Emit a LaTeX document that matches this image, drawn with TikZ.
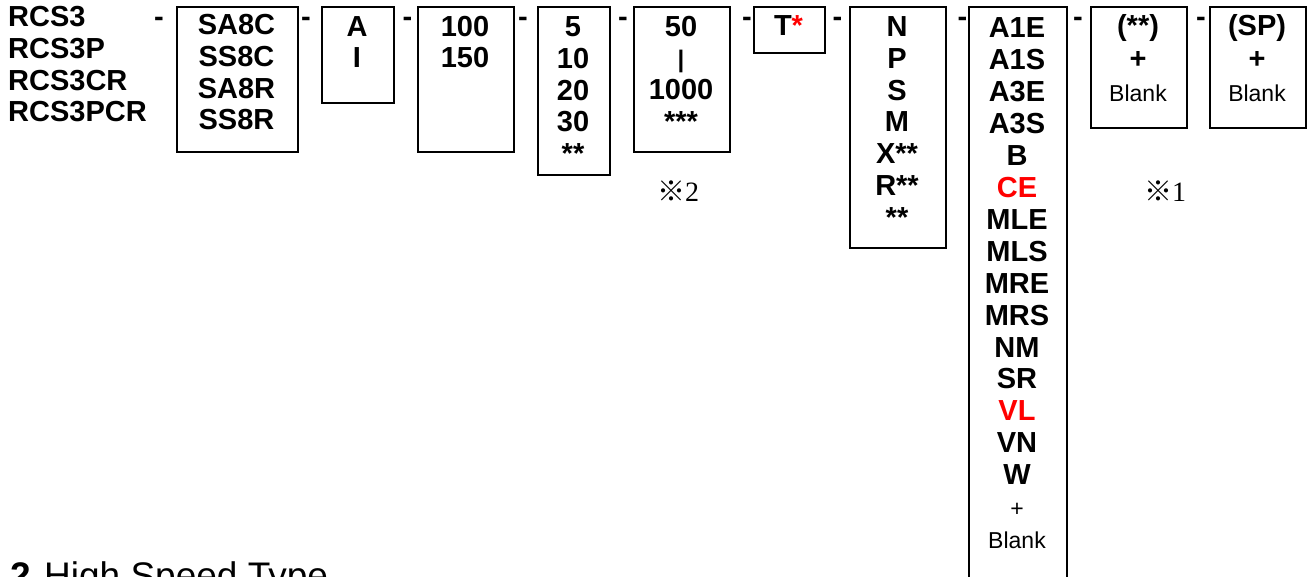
\documentclass[tikz,border=0pt]{standalone}
\usepackage{fontspec}
\setmainfont{Liberation Sans}
\newfontfamily\serifnum{Liberation Serif}
\newfontfamily\cjk{Noto Sans CJK SC}
\newcommand\firstln{\rule{0pt}{22pt}}
\begin{document}
\begin{tikzpicture}[x=1pt,y=-1pt,
  box/.style={draw, line width=1.6pt, inner sep=0pt, anchor=north west},
  txt/.style={inner sep=0pt, anchor=north, align=center, font=\fontsize{29}{31.8}\selectfont\bfseries},
  dsh/.style={inner sep=0pt, anchor=base, font=\fontsize{29}{31.8}\selectfont\bfseries},
  note/.style={inner sep=0pt, anchor=base, font=\fontsize{28}{28}\selectfont}
]
\useasboundingbox (0,0) rectangle (1311,577);
\fill[white] (0,0) rectangle (1311,577);
\clip (0,0) rectangle (1311,577);

% boxes
\node[box, minimum width=121pt, minimum height=145pt] (b1) at (176,6) {};
\node[box, minimum width=72pt,  minimum height=96pt]  (b2) at (321,6) {};
\node[box, minimum width=96pt,  minimum height=145pt] (b3) at (417,6) {};
\node[box, minimum width=72pt,  minimum height=168pt] (b4) at (537,6) {};
\node[box, minimum width=96pt,  minimum height=145pt] (b5) at (633,6) {};
\node[box, minimum width=71pt,  minimum height=46pt]  (b6) at (753,6) {};
\node[box, minimum width=96pt,  minimum height=241pt] (b7) at (849,6) {};
\node[box, minimum width=98pt,  minimum height=600pt] (b8) at (968,6) {};
\node[box, minimum width=96pt,  minimum height=121pt] (b9) at (1090,6) {};
\node[box, minimum width=96pt,  minimum height=121pt] (b10) at (1209,6) {};

% left column
\node[txt, anchor=north west, align=left] (models) at (8,4.4)
  {\firstln RCS3\\RCS3P\\RCS3CR\\RCS3PCR};

% box texts
\node[txt] (t1) at (236.5,12.4) {\firstln SA8C\\SS8C\\SA8R\\SS8R};
\node[txt] (t2) at (357,13.9) {\firstln A\\I};
\node[txt] (t3) at (465,13.9) {\firstln 100\\150};
\node[txt] (t4) at (573,14.4) {\firstln 5\\10\\20\\30\\**};
\node[txt] (t5) at (681,13.9) {\firstln 50\\{\fontsize{24}{31.8}\selectfont |}\\1000\\***};
\node[txt] (t6) at (788.5,13.4) {\firstln T{\color{red}*}};
\node[txt] (t7) at (897,14.4) {\firstln N\\P\\S\\M\\X**\\R**\\**};
\node[txt, font=\fontsize{29}{31.94}\selectfont\bfseries] (t8) at (1017,15.4)
  {\firstln A1E\\A1S\\A3E\\A3S\\B\\{\color{red}CE}\\MLE\\MLS\\MRE\\MRS\\NM\\SR\\{\color{red}VL}\\VN\\W\\{\fontsize{23}{31.94}\selectfont\mdseries +}\\{\fontsize{23}{31.94}\selectfont\mdseries Blank}};
\node[txt, font=\fontsize{29}{33}\selectfont\bfseries] (t9) at (1138,13.4)
  {\firstln (**)\\+\\{\fontsize{23}{33}\selectfont\mdseries Blank}};
\node[txt, font=\fontsize{29}{33}\selectfont\bfseries] (t10) at (1257,13.4)
  {\firstln (SP)\\+\\{\fontsize{23}{33}\selectfont\mdseries Blank}};

% dashes
\node[dsh] (d1) at (159,26.4) {-};
\node[dsh] (d2) at (306,26.4) {-};
\node[dsh] (d3) at (407.5,26.4) {-};
\node[dsh] (d4) at (523,26.4) {-};
\node[dsh] (d5) at (623,26.4) {-};
\node[dsh] (d6) at (747,26.4) {-};
\node[dsh] (d7) at (837.5,26.4) {-};
\node[dsh] (d8) at (962.5,26.4) {-};
\node[dsh] (d9) at (1078,26.4) {-};
\node[dsh] (d10) at (1201,26.4) {-};

% notes
\node[note] (n2) at (678,202) {{\cjk ※}{\serifnum 2}};
\node[note] (n1) at (1165,202) {{\cjk ※}{\serifnum 1}};

% bottom title
\node[inner sep=0pt, anchor=base west, font=\fontsize{37}{40}\selectfont\bfseries] (h2) at (10,588) {2};
\node[inner sep=0pt, anchor=base west, font=\fontsize{37}{40}\selectfont] (h3) at (44,588) {High Speed Type};
\end{tikzpicture}
\end{document}
